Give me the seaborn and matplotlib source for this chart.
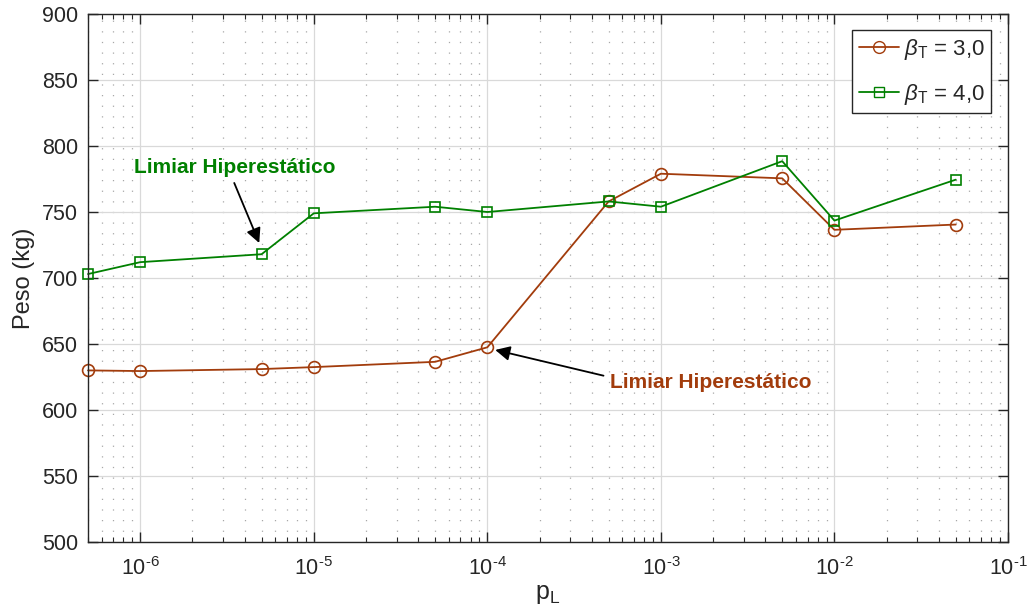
import numpy as np
import pandas as pd
import matplotlib
matplotlib.use("Agg")
import matplotlib.pyplot as plt
import seaborn as sns
from matplotlib.lines import Line2D
from matplotlib.ticker import LogLocator, NullFormatter, FuncFormatter

# ---- data ----
p_L = [5e-7, 1e-6, 5e-6, 1e-5, 5e-5, 1e-4, 5e-4, 1e-3, 5e-3, 1e-2, 5e-2]
peso_beta3 = [630, 629.5, 631, 632.5, 636.5, 647.5, 758, 779, 775.5, 736.5, 740.5]
peso_beta4 = [703, 712, 718, 749, 754, 750, 758, 754, 788.5, 743.5, 774.5]
series_labels = [r'$\beta_{\mathrm{T}}$ = 3,0', r'$\beta_{\mathrm{T}}$ = 4,0']
x_ticks = [1e-6, 1e-5, 1e-4, 1e-3, 1e-2, 1e-1]
y_ticks = [500, 550, 600, 650, 700, 750, 800, 850, 900]
annot_text = "Limiar Hiperestático"

c_brown = '#A23C0C'
c_green = '#008000'
c_axis = '#262626'

df = pd.DataFrame({
    'pL': p_L * 2,
    'peso': peso_beta3 + peso_beta4,
    'serie': [series_labels[0]] * len(p_L) + [series_labels[1]] * len(p_L),
})

sns.set_theme(style='ticks')
plt.rcParams['font.family'] = ['Liberation Sans', 'DejaVu Sans']
plt.rcParams['mathtext.fontset'] = 'custom'
plt.rcParams['mathtext.rm'] = 'Liberation Sans'
plt.rcParams['mathtext.it'] = 'Liberation Sans:italic'
plt.rcParams['axes.unicode_minus'] = False

fig = plt.figure(figsize=(10.28, 6.12), dpi=100)
ax = fig.add_axes([88/1028, 70/612, (1008-88)/1028, (542-14)/612])

sns.lineplot(data=df, x='pL', y='peso', hue='serie', style='serie',
             palette=[c_brown, c_green], markers=['o', 's'], dashes=False,
             linewidth=1.3, markersize=8.5, markeredgewidth=1.2,
             markerfacecolor='none', legend=False, ax=ax, sort=False)

for ln, c, ms in zip(ax.get_lines(), [c_brown, c_green], [8.5, 7]):
    ln.set_markerfacecolor('none')
    ln.set_markeredgecolor(c)
    ln.set_markersize(ms)
    ln.set_clip_on(False)

ax.set_xscale('log')
ax.set_xlim(5e-7, 1e-1)
ax.set_ylim(500, 900)
ax.set_xticks(x_ticks)
ax.xaxis.set_major_formatter(FuncFormatter(
    lambda v, p: r'$\mathregular{10^{\text{%d}}}$' % int(round(np.log10(v)))))
ax.set_yticks(y_ticks)
ax.xaxis.set_minor_locator(LogLocator(base=10, subs=np.arange(2, 10), numticks=20))
ax.xaxis.set_minor_formatter(NullFormatter())

ax.grid(True, which='major', color='#D9D9D9', linewidth=0.9, linestyle='-')
ax.grid(True, which='minor', axis='x', color='#A8A8A8', linewidth=0.9, linestyle=(0, (1, 7.5)))
ax.set_axisbelow(True)

ax.tick_params(which='major', direction='in', length=7, width=1.0, top=True, right=True,
               labelsize=15.5, colors=c_axis)
ax.tick_params(axis='y', which='major', pad=7)
ax.tick_params(axis='x', which='major', pad=11)
ax.tick_params(axis='x', which='minor', direction='in', length=3.8, width=0.8, top=True, bottom=True)
ax.tick_params(axis='y', which='minor', length=0, left=False, right=False)
for sp in ax.spines.values():
    sp.set_color(c_axis)
    sp.set_linewidth(1.0)

ax.set_xlabel(r'p$_{\mathrm{L}}$', fontsize=18, color=c_axis, labelpad=1)
ax.set_ylabel('Peso (kg)', fontsize=17, color=c_axis, labelpad=5)

# annotations
ax.text(9.2e-7, 784, annot_text, color=c_green, fontsize=15, fontweight='bold',
        ha='left', va='center')
ax.annotate('', xy=(4.85e-6, 726.5), xytext=(3.48e-6, 772),
            arrowprops=dict(arrowstyle='-|>', color='black', lw=1.3, mutation_scale=22,
                            shrinkA=0, shrinkB=0))
ax.text(5.1e-4, 621, annot_text, color=c_brown, fontsize=15, fontweight='bold',
        ha='left', va='center')
ax.annotate('', xy=(1.11e-4, 645.5), xytext=(4.67e-4, 626),
            arrowprops=dict(arrowstyle='-|>', color='black', lw=1.3, mutation_scale=22,
                            shrinkA=0, shrinkB=0))

handles = [Line2D([], [], color=c_brown, marker='o', mfc='none', mec=c_brown, ms=8.5, lw=1.3),
           Line2D([], [], color=c_green, marker='s', mfc='none', mec=c_green, ms=7, lw=1.3)]
leg = ax.legend(handles, series_labels, loc='upper right', fontsize=16,
                frameon=True, fancybox=False, edgecolor=c_axis, framealpha=1,
                borderpad=0.3, handlelength=1.8, handletextpad=0.2, labelspacing=0.9,
                borderaxespad=0, bbox_to_anchor=(903/920, 512/528))
leg.get_frame().set_linewidth(1.0)

fig.savefig('out.png', dpi=100)
